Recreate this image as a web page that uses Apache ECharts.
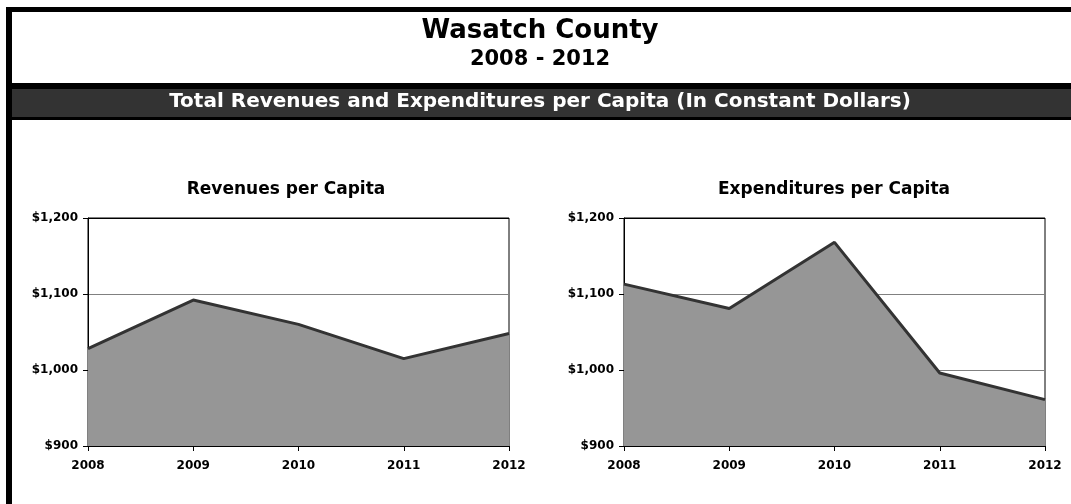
<!DOCTYPE html>
<html>
<head>
<meta charset="utf-8">
<script src="https://cdn.jsdelivr.net/npm/echarts@6/dist/echarts.min.js"></script>
<style>
  html, body { margin: 0; padding: 0; background: #fff; }
  #chart { width: 1071px; height: 504px; }
</style>
</head>
<body>
<div id="chart"></div>
<script>
// data
const years = ["2008", "2009", "2010", "2011", "2012"];
const revenues = [1028, 1092, 1060, 1015, 1048];
const expenditures = [1113, 1081, 1168, 996, 961];
const yMin = 900;
const yMax = 1200;
const yStep = 100;

const FONT = "'DejaVu Sans', 'Liberation Sans', Arial, sans-serif";

const chart = echarts.init(document.getElementById("chart"));

// shared axis look
function xAxisOpt(gridIndex) {
  return {
    type: "category",
    gridIndex: gridIndex,
    data: years,
    boundaryGap: false,
    axisLine: { lineStyle: { color: "#000", width: 1 } },
    axisTick: { show: true, length: 5, lineStyle: { color: "#000" } },
    axisLabel: {
      color: "#000",
      fontFamily: FONT,
      fontWeight: "bold",
      fontSize: 12,
      margin: 14,
    },
    splitLine: { show: false },
  };
}

function yAxisOpt(gridIndex) {
  return {
    type: "value",
    gridIndex: gridIndex,
    min: yMin,
    max: yMax,
    interval: yStep,
    axisLine: { show: true, lineStyle: { color: "#000", width: 1 } },
    axisTick: { show: true, length: 5, lineStyle: { color: "#000" } },
    axisLabel: {
      color: "#000",
      fontFamily: FONT,
      fontWeight: "bold",
      fontSize: 12,
      margin: 10,
      formatter: (v) => "$" + v.toLocaleString("en-US"),
    },
    splitLine: {
      show: true,
      lineStyle: { color: ["#000", "#808080", "#808080", "#000"], width: 1 },
    },
  };
}

function areaSeries(name, idx, values) {
  return {
    name: name,
    type: "line",
    xAxisIndex: idx,
    yAxisIndex: idx,
    data: values,
    symbol: "none",
    lineStyle: { color: "#333333", width: 3 },
    areaStyle: { color: "#969696", opacity: 1 },
    z: 3,
  };
}

chart.setOption({
  backgroundColor: "#fff",
  animation: false,
  grid: [
    { left: 88, right: 562, top: 218, bottom: 58, show: true, borderColor: "#000", borderWidth: 1, backgroundColor: "transparent" },
    { left: 624, right: 26, top: 218, bottom: 58, show: true, borderColor: "#000", borderWidth: 1, backgroundColor: "transparent" },
  ],
  xAxis: [xAxisOpt(0), xAxisOpt(1)],
  yAxis: [yAxisOpt(0), yAxisOpt(1)],
  series: [
    areaSeries("Revenues per Capita", 0, revenues),
    areaSeries("Expenditures per Capita", 1, expenditures),
  ],
  graphic: [
    // frame and header band
    { type: "rect", shape: { x: 6, y: 7, width: 1065, height: 5 }, style: { fill: "#000" }, silent: true },
    { type: "rect", shape: { x: 6, y: 7, width: 6, height: 497 }, style: { fill: "#000" }, silent: true },
    { type: "rect", shape: { x: 6, y: 83, width: 1065, height: 6 }, style: { fill: "#000" }, silent: true },
    { type: "rect", shape: { x: 12, y: 89, width: 1059, height: 28 }, style: { fill: "#333333" }, silent: true },
    { type: "rect", shape: { x: 6, y: 117, width: 1065, height: 3 }, style: { fill: "#000" }, silent: true },
    {
      type: "text", x: 540, y: 31, silent: true,
      style: { text: "Wasatch County", fill: "#000", font: "bold 26px " + FONT, textAlign: "center", textVerticalAlign: "middle" },
    },
    {
      type: "text", x: 540, y: 60, silent: true,
      style: { text: "2008 - 2012", fill: "#000", font: "bold 21px " + FONT, textAlign: "center", textVerticalAlign: "middle" },
    },
    {
      type: "text", x: 540, y: 102, silent: true,
      style: { text: "Total Revenues and Expenditures per Capita (In Constant Dollars)", fill: "#fff", font: "bold 20px " + FONT, textAlign: "center", textVerticalAlign: "middle" },
    },
    {
      type: "text", x: 286, y: 190, silent: true,
      style: { text: "Revenues per Capita", fill: "#000", font: "bold 17px " + FONT, textAlign: "center", textVerticalAlign: "middle" },
    },
    {
      type: "text", x: 834, y: 190, silent: true,
      style: { text: "Expenditures per Capita", fill: "#000", font: "bold 17px " + FONT, textAlign: "center", textVerticalAlign: "middle" },
    },
  ],
});
</script>
</body>
</html>
